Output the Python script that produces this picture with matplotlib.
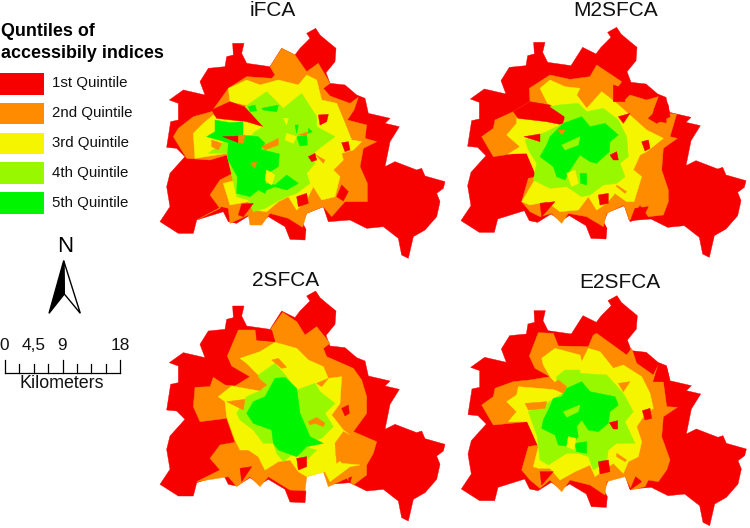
import matplotlib
matplotlib.use('Agg')
import matplotlib.pyplot as plt
from matplotlib.patches import Polygon, Rectangle

plt.rcParams['font.family'] = ['Liberation Sans', 'DejaVu Sans']

RED = '#f60000'
ORANGE = '#ff8c00'
YELLOW = '#f5f500'
LIME = '#98f800'
GREEN = '#00f500'

legend_labels = ['1st Quintile', '2nd Quintile', '3rd Quintile', '4th Quintile', '5th Quintile']
legend_colors = [RED, ORANGE, YELLOW, LIME, GREEN]
scale_labels = ['0', '4,5', '9', '18']
scale_km = [0, 4.5, 9, 18]

# berlin outline (3x crop pixels)
outline = [(470,40),(497,25),(510,45),(530,62),(558,85),(555,125),(528,158),(540,190),(585,195),(620,225),(645,235),(655,280),(720,295),(705,310),(748,320),(720,365),(705,440),(735,425),(800,450),(815,445),(825,468),(885,485),(880,505),(860,520),(870,545),(860,590),(825,630),(790,650),(775,715),(755,705),(745,655),(700,620),(650,625),(600,600),(535,605),(520,560),(470,580),(458,610),(468,628),(465,660),(420,658),(405,620),(355,590),(330,605),(300,585),(260,610),(235,605),(220,575),(140,600),(130,640),(85,640),(30,605),(60,560),(50,500),(60,460),(105,410),(80,385),(50,382),(62,305),(85,300),(85,250),(58,240),(100,210),(165,225),(150,185),(175,145),(225,140),(230,110),(250,105),(248,70),(282,70),(275,100),(290,130),(360,140),(395,85),(435,105),(450,85),(480,55)]

ifca_layers = [
    (ORANGE, [(395,85),(435,105),(470,155),(505,130),(540,190),(520,205),(540,228),(600,250),(625,232),(612,270),(592,300),(650,315),(645,355),(680,365),(640,385),(630,440),(652,490),(652,545),(585,545),(545,590),(520,560),(470,580),(458,622),(415,595),(360,580),(335,615),(300,615),(295,585),(240,610),(235,565),(215,560),(140,600),(210,565),(180,525),(210,480),(258,455),(230,405),(180,420),(110,415),(70,350),(85,325),(130,290),(185,275),(235,205),(290,170),(365,175),(375,165),(360,140)]),
    (YELLOW, [(235,205),(290,180),(330,195),(385,180),(445,195),(470,165),(500,180),(515,240),(560,250),(585,310),(605,360),(635,365),(610,390),(575,400),(580,420),(550,450),(570,470),(555,530),(515,540),(490,500),(470,540),(440,570),(415,530),(385,545),(350,575),(310,570),(295,545),(240,555),(220,490),(260,480),(265,420),(230,400),(135,415),(130,340),(160,310),(190,285),(205,295),(330,300),(310,260),(240,245)]),
    (RED, [(185,270),(240,245),(310,270),(345,300),(340,320),(290,305),(200,295)]),
    (LIME, [(285,260),(350,215),(400,265),(455,220),(500,290),(500,320),(555,350),(515,380),(490,400),(495,430),(470,460),(480,490),(440,520),(410,530),(380,545),(345,565),(310,575),(295,540),(260,530),(230,400),(175,400),(230,360),(290,350),(340,320)]),
    (GREEN, [(195,300),(240,308),(280,305),(280,345),(325,350),(345,370),(332,388),(388,402),(385,440),(360,455),(345,490),(375,495),(410,465),(445,490),(410,510),(375,500),(350,510),(345,520),(325,510),(300,530),(260,520),(262,470),(232,415),(235,368),(170,350),(195,335)]),
    (GREEN, [(295,260),(315,255),(320,272),(300,275)]),
    (GREEN, [(335,265),(385,255),(380,275),(340,270)]),
    (GREEN, [(435,315),(445,315),(440,340)]),
    (GREEN, [(475,325),(487,335),(475,340)]),
    (GREEN, [(440,350),(470,345),(472,375),(450,378)]),
    (YELLOW, [(400,295),(415,295),(410,315)]),
    (YELLOW, [(350,450),(375,465),(365,495),(345,480)]),
    (YELLOW, [(410,340),(440,350),(430,370),(405,360)]),
    (YELLOW, [(280,305),(320,320),(305,345),(280,345)]),
    (RED, [(505,285),(535,283),(530,305),(510,315)]),
    (RED, [(218,350),(265,348),(265,368)]),
    (ORANGE, [(265,345),(285,345),(280,370),(265,368)]),
    (RED, [(575,368),(595,365),(600,390),(585,395)]),
    (RED, [(475,410),(495,400),(500,420),(485,425)]),
    (ORANGE, [(498,405),(525,420),(520,430)]),
    (RED, [(440,530),(470,520),(475,550),(445,560)]),
    (RED, [(265,585),(275,552),(310,550),(280,590)]),
    (RED, [(560,530),(575,495),(595,515),(580,543)]),
    (ORANGE, [(185,360),(215,370),(205,390),(185,380)]),
    (ORANGE, [(335,380),(385,355),(385,375),(345,390)]),
    (ORANGE, [(300,430),(320,425),(315,445)]),
    (ORANGE, [(445,345),(475,335),(470,345)]),
]

m2sfca_layers = [
    (ORANGE, [(440,135),(515,185),(490,220),(520,245),(540,225),(590,240),(625,230),(610,270),(605,300),(650,310),(650,280),(680,282),(660,350),(682,355),(640,385),(635,450),(655,510),(655,545),(640,585),(595,590),(570,555),(540,605),(522,555),(470,580),(460,620),(410,590),(355,580),(335,610),(305,580),(270,590),(240,575),(215,545),(235,475),(260,470),(230,395),(130,410),(95,350),(130,325),(135,300),(190,275),(240,245),(238,205),(300,165),(360,178),(420,170)]),
    (YELLOW, [(270,205),(300,180),(345,200),(390,205),(380,225),(410,265),(455,215),(500,250),(545,290),(590,330),(640,355),(590,395),(570,405),(550,450),(575,470),(552,545),(530,545),(495,520),(470,550),(440,570),(415,530),(385,570),(330,575),(290,545),(240,555),(215,545),(260,470),(230,400),(175,402),(210,380),(170,345),(200,310),(200,295),(330,300),(300,265)]),
    (RED, [(190,275),(240,245),(300,255),(350,295),(340,315),(290,305),(205,295)]),
    (LIME, [(300,260),(325,255),(385,250),(410,275),(460,265),(505,300),(530,350),(535,410),(510,430),(525,470),(500,490),(460,495),(420,525),(395,530),(350,500),(300,505),(250,480),(260,430),(235,390),(225,360),(290,335),(340,310),(345,290)]),
    (GREEN, [(340,310),(395,290),(420,320),(465,310),(505,345),(480,365),(478,395),(440,430),(420,425),(390,405),(360,450),(345,480),(320,470),(310,440),(270,410),(290,375),(300,350)]),
    (LIME, [(335,375),(390,350),(385,375),(345,390)]),
    (YELLOW, [(350,460),(375,450),(385,490),(365,500)]),
    (GREEN, [(390,460),(410,460),(410,495),(392,490)]),
    (RED, [(505,290),(540,280),(520,310)]),
    (RED, [(222,350),(270,342),(270,365)]),
    (ORANGE, [(325,330),(345,330),(335,345)]),
    (RED, [(575,365),(595,360),(600,385),(585,393)]),
    (RED, [(480,405),(500,395),(505,420),(490,420)]),
    (RED, [(445,525),(475,520),(475,550),(450,555)]),
    (RED, [(270,550),(315,545),(275,590)]),
    (RED, [(490,195),(520,205),(525,245),(490,245)]),
    (RED, [(540,605),(555,565),(595,560),(580,590)]),
    (RED, [(610,280),(630,228),(655,255),(660,290),(620,310),(595,295)]),
    (ORANGE, [(500,495),(530,515),(525,520),(500,500)]),
]

sfca2_layers = [
    (ORANGE, [(398,97),(440,125),(465,165),(500,140),(540,190),(520,205),(530,230),(610,265),(635,300),(650,350),(650,400),(610,455),(680,485),(670,520),(650,555),(650,585),(610,615),(590,595),(535,620),(520,575),(470,590),(465,632),(420,630),(355,590),(330,620),(300,590),(260,620),(235,590),(140,605),(210,570),(180,535),(210,495),(255,487),(230,415),(150,425),(130,380),(135,322),(180,320),(190,292),(225,315),(255,318),(300,290),(245,258),(232,228),(265,150),(315,150),(320,180),(375,185),(360,150)]),
    (YELLOW, [(270,235),(330,215),(375,187),(440,205),(475,240),(520,260),(535,295),(575,290),(570,370),(545,405),(580,450),(600,465),(575,500),(555,525),(575,550),(630,555),(600,560),(540,605),(525,575),(470,590),(445,575),(420,540),(385,545),(345,570),(325,530),(295,510),(270,510),(255,480),(230,410),(225,365),(205,350),(245,318),(340,335),(330,290),(290,250)]),
    (LIME, [(325,285),(375,250),(410,290),(440,330),(495,310),(510,335),(555,370),(525,400),(550,440),(515,475),(465,490),(460,500),(500,510),(470,540),(430,520),(400,545),(380,520),(370,490),(340,490),(310,450),(270,420),(260,400),(290,350),(335,330)]),
    (GREEN, [(375,295),(405,292),(440,325),(450,400),(480,470),(520,490),(470,500),(440,530),(385,510),(370,490),(365,450),(310,430),(290,400),(310,365),(345,350)]),
    (ORANGE, [(320,290),(350,315),(330,330),(295,305)]),
    (ORANGE, [(365,240),(385,235),(410,262),(395,265)]),
    (ORANGE, [(500,310),(535,295),(515,320)]),
    (ORANGE, [(230,365),(285,358),(280,390),(260,380)]),
    (ORANGE, [(475,425),(500,412),(525,430),(520,440),(495,430),(480,435)]),
    (RED, [(575,385),(595,375),(598,400),(585,408)]),
    (RED, [(440,535),(470,530),(470,560),(445,570)]),
    (RED, [(270,565),(305,560),(275,605)]),
    (ORANGE, [(555,490),(580,455),(640,485),(620,520),(625,550),(590,525),(560,550)]),
    (RED, [(320,155),(365,150),(375,185),(320,180)]),
    (RED, [(595,595),(605,590),(600,610)]),
]

e2sfca_layers = [
    (ORANGE, [(440,160),(530,225),(545,205),(560,250),(610,285),(625,255),(612,300),(640,305),(650,380),(682,382),(640,410),(635,470),(660,540),(650,570),(625,605),(595,600),(585,620),(545,630),(525,590),(470,605),(465,645),(420,615),(360,600),(335,635),(300,600),(270,625),(240,600),(215,570),(235,500),(265,495),(232,425),(130,435),(95,375),(130,350),(135,325),(190,305),(240,300),(300,290),(255,265),(238,228),(265,158),(310,160),(325,198),(415,200),(430,165)]),
    (YELLOW, [(275,235),(315,205),(390,225),(395,245),(415,205),(450,215),(490,265),(520,255),(575,290),(600,340),(610,385),(580,410),(560,440),(575,485),(565,530),(535,545),(520,580),(490,550),(435,590),(420,555),(375,575),(330,600),(300,565),(265,565),(250,560),(265,500),(232,425),(175,425),(200,395),(170,365),(200,345),(205,320),(325,330),(345,340),(300,290),(280,255)]),
    (LIME, [(320,290),(345,270),(390,270),(390,280),(470,285),(520,340),(550,395),(525,425),(555,490),(500,490),(475,510),(470,545),(430,570),(415,530),(385,520),(350,520),(295,555),(270,540),(262,470),(235,395),(290,370),(345,335),(320,310)]),
    (GREEN, [(350,325),(395,305),(420,335),(470,345),(495,350),(505,375),(480,395),(475,430),(445,455),(415,450),(395,420),(380,440),(385,470),(360,500),(325,495),(315,465),(275,445),(280,420),(295,390),(310,355),(335,350)]),
    (GREEN, [(375,490),(410,485),(410,520),(380,515)]),
    (YELLOW, [(355,470),(378,475),(372,510),(350,500)]),
    (LIME, [(340,395),(390,375),(385,395),(350,412)]),
    (ORANGE, [(325,300),(350,320),(340,340),(295,320)]),
    (RED, [(270,575),(310,575),(275,615)]),
    (RED, [(445,545),(475,540),(480,575),(450,582)]),
    (RED, [(478,428),(503,422),(503,447),(490,447)]),
    (RED, [(577,392),(600,385),(605,415),(585,420)]),
    (ORANGE, [(505,310),(540,305),(520,335)]),
    (RED, [(610,305),(625,255),(650,260),(660,300),(640,305)]),
    (RED, [(540,630),(557,590),(575,605)]),
    (ORANGE, [(225,370),(290,365),(285,385),(235,390)]),
    (ORANGE, [(500,520),(530,540),(525,545),(500,530)]),
]

panel_titles = ['iFCA', 'M2SFCA', '2SFCA', 'E2SFCA']
panel_title_xy = [(273, 10), (616, 10), (286, 281), (620, 282)]
panel_layers = [ifca_layers, m2sfca_layers, sfca2_layers, e2sfca_layers]
panel_origin = [(150, 20), (450, 20), (150, 280), (450, 280)]
outline_shift = [(0, 0), (3, -3), (0, 8), (4, 22)]

fig = plt.figure(figsize=(7.5, 5.28), dpi=100)
ax = fig.add_axes([0, 0, 1, 1])
ax.set_xlim(0, 750)
ax.set_ylim(528, 0)
ax.axis('off')


def draw_poly(pts, ox, oy, color):
    xy = [(ox + x / 3, oy + y / 3) for x, y in pts]
    ax.add_patch(Polygon(xy, closed=True, facecolor=color, edgecolor=color, linewidth=0.3))


for i in range(4):
    ox, oy = panel_origin[i]
    sx, sy = outline_shift[i]
    draw_poly([(x + sx, y + sy) for x, y in outline], ox, oy, RED)
    for color, pts in panel_layers[i]:
        draw_poly(pts, ox, oy, color)
    ax.text(panel_title_xy[i][0], panel_title_xy[i][1], panel_titles[i], fontsize=15,
            ha='center', va='center', color='#111111')

# legend
ax.text(1, 32, 'Quntiles of', fontsize=12.9, fontweight='bold', va='center')
ax.text(1, 53, 'accessibily indices', fontsize=12.9, fontweight='bold', va='center')
for i in range(5):
    y = 73 + i * 29.8
    ax.add_patch(Rectangle((0, y), 43.5, 21.5, facecolor=legend_colors[i], edgecolor='none'))
    ax.text(52, y + 10.5, legend_labels[i], fontsize=10.8, va='center', color='#111111')

# north arrow
ax.text(65, 247, 'N', fontsize=16, ha='center', va='center')
ax.add_patch(Polygon([(63.7, 260.7), (80.3, 313.3), (64.3, 294)], closed=True, facecolor='white',
                     edgecolor='black', linewidth=1))
ax.add_patch(Polygon([(63.7, 260.7), (49, 313.3), (64.3, 294)], closed=True, facecolor='black',
                     edgecolor='black', linewidth=1))

# scale bar
km_to_px = 115 / 18
base_y = 372.7
ax.plot([5, 120], [base_y, base_y], color='black', lw=0.9)
for k in range(9):
    km = k * 2.25
    top = 360 if k in (0, 4, 8) else 364
    ax.plot([5 + km * km_to_px] * 2, [base_y, top], color='black', lw=0.9)
for lab, km in zip(scale_labels, scale_km):
    ax.text(5 + km * km_to_px - (0 if km else 1), 345, lab, fontsize=12.4, ha='center', va='center', color='#111111')
ax.text(62, 383.5, 'Kilometers', fontsize=12.9, ha='center', va='center', color='#111111')

fig.savefig('out.png', dpi=100)
